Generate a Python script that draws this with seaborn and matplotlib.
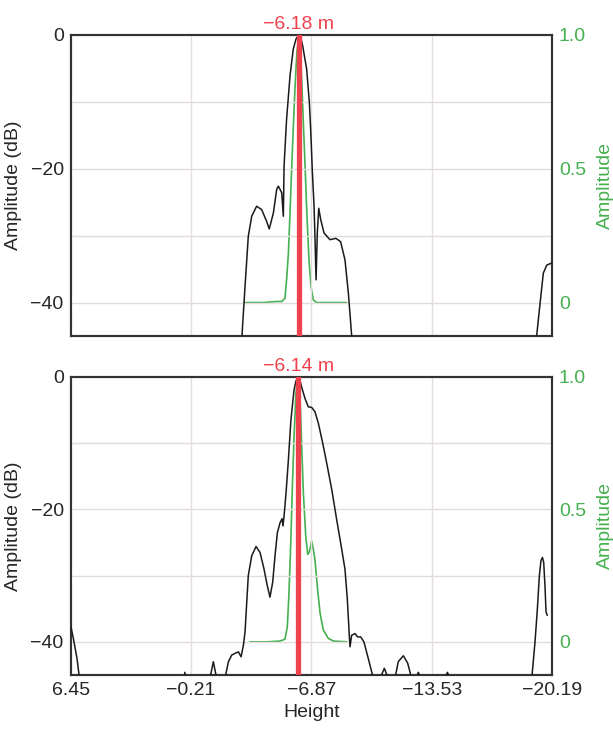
import matplotlib
matplotlib.use("Agg")
import matplotlib.pyplot as plt
import matplotlib.transforms as mtransforms
import numpy as np
import pandas as pd
import seaborn as sns

### Data (height in m, amplitude in dB / linear)
x_ticks = [6.45, -0.21, -6.87, -13.53, -20.19]
peaks = [-6.18, -6.14]
peak_labels = ["\u22126.18 m", "\u22126.14 m"]

# top panel, black dB curve
top_db_h = [6.45, -2.95, -3.05, -3.20, -3.38, -3.57, -3.84, -4.12, -4.40, -4.54, -4.77,
            -4.95, -5.04, -5.14, -5.23, -5.32, -5.36, -5.50, -5.69, -5.87, -6.02, -6.18,
            -6.29, -6.39, -6.61, -6.76, -6.85, -6.92, -7.02, -7.07, -7.13, -7.20, -7.28,
            -7.39, -7.57, -7.90, -8.23, -8.49, -8.73, -8.92, -9.10, -9.20,
            -19.25, -19.34, -19.53, -19.71, -19.90, -20.17]
top_db = [-50, -50, -44.1, -37.6, -30.1, -27.1, -25.6, -26.1, -27.9, -29.0, -26.6,
          -23.1, -22.6, -23.1, -23.6, -27.1, -19.6, -12.6, -6.1, -2.1, -0.6, 0.0,
          -0.5, -1.6, -5.1, -10.1, -15.1, -20.1, -25.6, -30.1, -36.6, -29.6, -25.9,
          -27.6, -29.6, -30.6, -30.4, -30.9, -33.6, -38.6, -44.9, -50,
          -50, -45.0, -40.1, -35.6, -34.4, -34.1]

# top panel, green linear curve
top_amp_h = [-3.20, -4.21, -4.95, -5.23, -5.41, -5.50, -5.60, -5.69, -5.78, -5.87,
             -5.97, -6.07, -6.18, -6.27, -6.35, -6.44, -6.53, -6.62, -6.74, -6.85,
             -6.98, -7.16, -8.82]
top_amp = [0.0, 0.0, 0.004, 0.004, 0.016, 0.085, 0.185, 0.335, 0.50, 0.65,
           0.81, 0.935, 1.0, 0.935, 0.81, 0.65, 0.50, 0.335, 0.16, 0.06,
           0.01, 0.0, 0.0]

# bottom panel, black dB curve
bot_db_h = [6.45, 6.30, 6.10, 5.85, 0.30, 0.13, 0.00, -1.10, -1.26, -1.445, -1.63,
            -2.09, -2.28, -2.46, -2.64, -2.83, -2.98, -3.11, -3.20, -3.38, -3.57,
            -3.81, -4.03, -4.25, -4.43, -4.58, -4.73, -4.86, -4.99, -5.14, -5.25,
            -5.30, -5.36, -5.47, -5.60, -5.74, -5.91, -6.02, -6.14, -6.24, -6.33, -6.52, -6.70,
            -6.89, -7.07, -7.26, -7.50, -7.72, -8.00, -8.27, -8.55, -8.73, -8.86,
            -8.97, -9.01, -9.10, -9.29, -9.43, -9.60, -9.78, -10.02, -10.30,
            -10.67, -10.91, -11.13, -11.50, -11.68, -11.96, -12.20, -12.42,
            -12.66, -12.79, -12.92, -14.27, -14.40, -14.54, -19.00,
            -19.07, -19.25, -19.38, -19.49, -19.58, -19.66, -19.73, -19.80, -19.86, -19.93]
bot_db = [-37.5, -39.5, -42.5, -48, -48, -44.6, -48, -48, -45.5, -43.0, -45.5,
          -45.5, -43.0, -42.0, -41.75, -41.5, -42.25, -40.5, -38.5, -30.0, -27.0,
          -25.6, -26.5, -29.0, -31.5, -33.25, -31.0, -27.0, -23.5, -22.0, -21.4,
          -22.5, -21.0, -17.5, -12.5, -6.5, -2.0, -0.6, 0.0, -0.5, -1.5, -3.25, -4.5,
          -4.6, -5.25, -7.0, -10.0, -13.0, -17.0, -21.5, -26.0, -29.0, -33.5,
          -39.0, -40.75, -39.0, -38.75, -39.25, -39.25, -40.0, -42.5, -45.5,
          -45.5, -44.0, -45.5, -45.5, -43.0, -42.1, -43.2, -45.5,
          -45.5, -44.6, -45.5, -45.5, -44.6, -45.5, -48,
          -45.5, -40.0, -35.0, -30.0, -27.75, -27.25, -28.0, -31.5, -35.5, -36.0]

# bottom panel, green linear curve
bot_amp_h = [-3.47, -4.40, -5.14, -5.41, -5.54, -5.63, -5.73, -5.82, -5.91, -6.02,
             -6.14, -6.24, -6.33, -6.43, -6.56, -6.67, -6.76, -6.89, -6.98, -7.07,
             -7.20, -7.35, -7.53, -7.81, -8.09, -8.83]
bot_amp = [0.0, 0.0, 0.003, 0.01, 0.057, 0.18, 0.37, 0.585, 0.77, 0.94,
           1.0, 0.925, 0.75, 0.56, 0.40, 0.33, 0.34, 0.38, 0.35, 0.31,
           0.21, 0.11, 0.045, 0.013, 0.003, 0.0]

### Style
sns.set_style("white")
plt.rcParams['font.family'] = ['Liberation Sans', 'DejaVu Sans']
plt.rcParams['axes.unicode_minus'] = True

black = "#1a1a1a"
green = "#45b04f"
red = "#f0424e"
grid_c = "#e4dcdc"

fig = plt.figure(figsize=(6.13, 7.32), dpi=100)
ax_top = fig.add_axes([0.1153, 0.541, 0.7852, 0.4112])
ax_bot = fig.add_axes([0.1153, 0.0779, 0.7852, 0.4071])

panels = [
    (ax_top, top_db_h, top_db, top_amp_h, top_amp),
    (ax_bot, bot_db_h, bot_db, bot_amp_h, bot_amp),
]

for i, (ax, dh, db, ah, amp) in enumerate(panels):
    ax2 = ax.twinx()

    # grid
    ax.set_xlim(6.45, -20.19)
    ax.set_ylim(-45, 0)
    ax.set_xticks(x_ticks)
    ax.set_yticks([0, -20, -40])
    for xt in x_ticks[1:-1]:
        ax.axvline(xt, color=grid_c, lw=1.0, zorder=0)
    for yt in [-10, -20, -30, -40]:
        ax.axhline(yt, color=grid_c, lw=1.0, zorder=0)

    df_db = pd.DataFrame({"h": dh, "db": db})
    df_amp = pd.DataFrame({"h": ah, "amp": amp})

    sns.lineplot(data=df_amp, x="h", y="amp", ax=ax2, color=green, lw=1.2,
                 sort=False, estimator=None)
    sns.lineplot(data=df_db, x="h", y="db", ax=ax, color=black, lw=1.1,
                 sort=False, estimator=None, zorder=3)
    ax.axvline(peaks[i], color=red, lw=3.8, zorder=4)

    ax2.set_ylim(-0.125, 1.0)
    ax2.set_yticks([0, 0.5, 1.0])
    ax2.set_yticklabels(["0", "0.5", "1.0"])
    ax2.tick_params(axis='y', colors=green, labelsize=14, length=0, pad=5)
    ax2.set_ylabel("Amplitude", color=green, fontsize=14, labelpad=8)
    ax2.set_xlim(6.45, -20.19)
    ax.set_zorder(ax2.get_zorder() + 1)
    ax.patch.set_visible(False)

    ax.set_ylabel("Amplitude (dB)", fontsize=14, labelpad=6)
    ax.tick_params(axis='both', which='both', length=0, labelsize=14, pad=5)
    if i == 0:
        ax.set_xticklabels([])
        ax.set_xlabel("")
    else:
        ax.set_xticklabels(["6.45", "\u22120.21", "\u22126.87", "\u221213.53", "\u221220.19"])
        ax.set_xlabel("Height", fontsize=14, labelpad=4)

    for a in (ax, ax2):
        for s in a.spines.values():
            s.set_color("#333333")
            s.set_linewidth(1.5)

    trans = mtransforms.blended_transform_factory(ax.transData, ax.transAxes)
    ax.text(peaks[i], 1.008, peak_labels[i], transform=trans, ha='center', va='bottom',
            color=red, fontsize=14)

fig.savefig("out.png", dpi=100)
